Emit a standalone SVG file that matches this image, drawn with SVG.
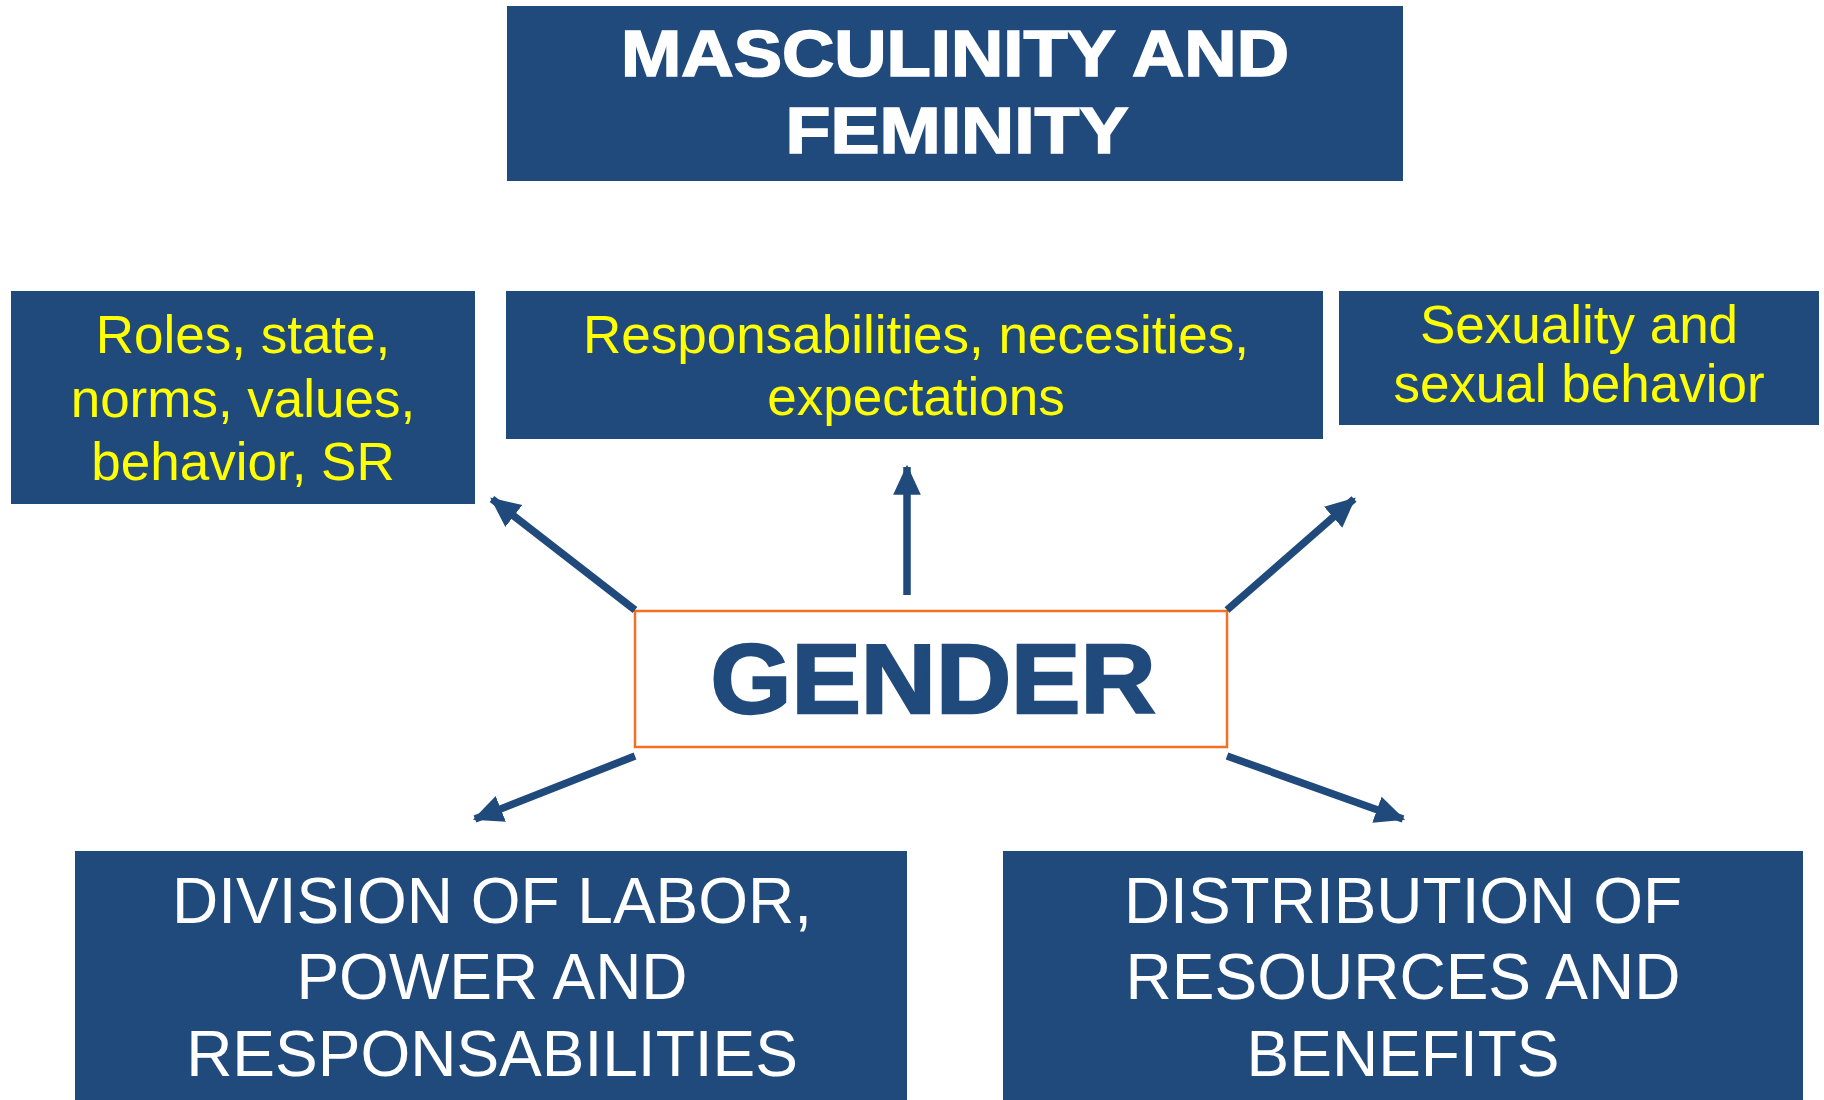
<svg xmlns="http://www.w3.org/2000/svg" width="1824" height="1100" viewBox="0 0 1824 1100">
  <style>
    .box { fill: #214A7C; }
    .title { font-family: "Liberation Sans", Arial, sans-serif; font-weight: bold; fill: #FFFFFF; stroke: #FFFFFF; stroke-width: 1.6; font-size: 65px; text-anchor: middle; }
    .yel { font-family: "Liberation Sans", Arial, sans-serif; fill: #FFFF00; font-size: 53px; text-anchor: middle; }
    .wht { font-family: "Liberation Sans", Arial, sans-serif; fill: #FFFFFF; font-size: 64px; text-anchor: middle; }
    .gender { font-family: "Liberation Sans", Arial, sans-serif; font-weight: bold; fill: #214A7C; stroke: #214A7C; stroke-width: 2.4; font-size: 99px; text-anchor: middle; }
    .conn { stroke: #214A7C; stroke-width: 7.5; fill: none; marker-end: url(#arrow); }
  </style>
  <defs>
    <marker id="arrow" markerUnits="userSpaceOnUse" markerWidth="30" markerHeight="30" viewBox="0 0 26 24" refX="24" refY="12" orient="auto">
      <path d="M0,0 L26,12 L0,24 Z" fill="#214A7C"/>
    </marker>
  </defs>
  <rect width="1824" height="1100" fill="#FFFFFF"/>

  <g id="masculinity">
    <rect class="box" x="507" y="6" width="896" height="175"/>
    <text class="title" x="955" y="76" textLength="668" lengthAdjust="spacingAndGlyphs">MASCULINITY AND</text>
    <text class="title" x="957" y="153" textLength="343" lengthAdjust="spacingAndGlyphs">FEMINITY</text>
  </g>

  <g id="roles">
    <rect class="box" x="11" y="291" width="464" height="213"/>
    <text class="yel" x="243" y="353">Roles, state,</text>
    <text class="yel" x="243" y="417">norms, values,</text>
    <text class="yel" x="243" y="480">behavior, SR</text>
  </g>

  <g id="responsabilities">
    <rect class="box" x="506" y="291" width="817" height="148"/>
    <text class="yel" x="916" y="353">Responsabilities, necesities,</text>
    <text class="yel" x="916" y="415">expectations</text>
  </g>

  <g id="sexuality">
    <rect class="box" x="1339" y="291" width="480" height="134"/>
    <text class="yel" x="1579" y="343">Sexuality and</text>
    <text class="yel" x="1579" y="402">sexual behavior</text>
  </g>

  <g id="gender">
    <rect x="635" y="611" width="592" height="136" fill="#FFFFFF" stroke="#F36F21" stroke-width="2.5"/>
    <text class="gender" x="933" y="713" textLength="445" lengthAdjust="spacingAndGlyphs">GENDER</text>
  </g>

  <g id="division">
    <rect class="box" x="75" y="851" width="832" height="260"/>
    <text class="wht" x="492" y="923">DIVISION OF LABOR,</text>
    <text class="wht" x="492" y="999">POWER AND</text>
    <text class="wht" x="492" y="1076">RESPONSABILITIES</text>
  </g>

  <g id="distribution">
    <rect class="box" x="1003" y="851" width="800" height="260"/>
    <text class="wht" x="1403" y="923">DISTRIBUTION OF</text>
    <text class="wht" x="1403" y="999">RESOURCES AND</text>
    <text class="wht" x="1403" y="1076">BENEFITS</text>
  </g>

  <g id="connectors">
    <line class="conn" x1="635" y1="610" x2="492" y2="499"/>
    <line class="conn" x1="907" y1="595" x2="907" y2="467"/>
    <line class="conn" x1="1227" y1="610" x2="1354" y2="499"/>
    <line class="conn" x1="635" y1="756" x2="475" y2="819"/>
    <line class="conn" x1="1227" y1="756" x2="1403" y2="819"/>
  </g>
</svg>
